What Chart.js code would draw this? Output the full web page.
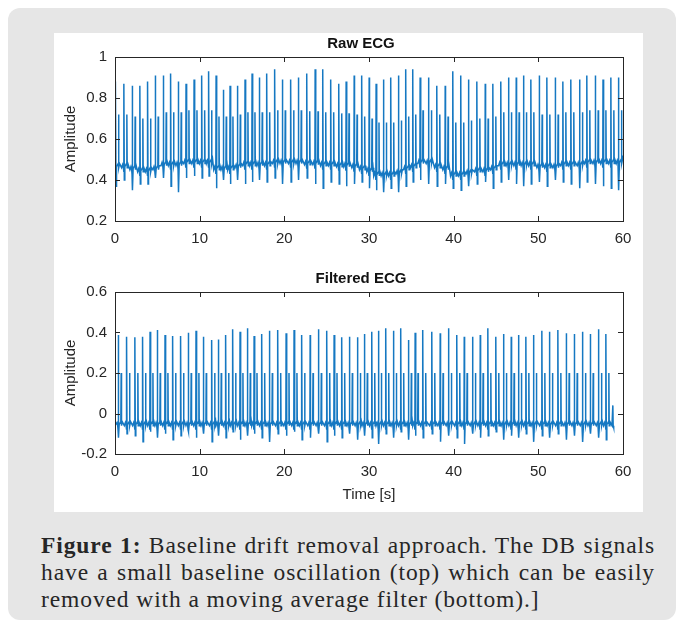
<!DOCTYPE html>
<html>
<head>
<meta charset="utf-8">
<script src="https://cdn.jsdelivr.net/npm/chart.js@4.4.1/dist/chart.umd.min.js"></script>
<style>
  body { margin: 0; background: #fff; width: 684px; height: 627px; overflow: hidden; position: relative; }
  #panel { position: absolute; left: 8px; top: 8px; width: 668px; height: 612px; background: #e6e6e6; border-radius: 12px; }
  #fig { position: absolute; left: 54px; top: 33px; width: 589px; height: 479px; background: #fff; }
  #c1 { position: absolute; left: 0; top: 0; }
  #c2 { position: absolute; left: 0; top: 229px; }
  .cap { position: absolute; left: 41px; width: 614px; font-family: "Liberation Serif", "Times New Roman", serif;
         font-size: 23.5px; letter-spacing: 0.9px; color: #262626; text-align: justify; text-align-last: justify;
         line-height: 26px; white-space: nowrap; }
</style>
</head>
<body>
<div id="panel"></div>
<div id="fig">
  <canvas id="c1" width="589" height="225"></canvas>
  <canvas id="c2" width="589" height="250"></canvas>
</div>
<div class="cap" style="top:532px"><b>Figure 1:</b> Baseline drift removal approach. The DB signals</div>
<div class="cap" style="top:559px">have a small baseline oscillation (top) which can be easily</div>
<div class="cap" style="top:586px; text-align-last:left">removed with a moving average filter (bottom).]</div>

<script>
// ---- data (seconds / amplitude) ----
var rawBeatTimes = [0.08,1.06,2.04,2.95,3.86,4.76,5.71,6.58,7.48,8.39,9.34,10.25,11.07,11.94,12.80,13.59,14.46,15.36,16.19,17.05,
  17.93,18.87,19.77,20.76,21.66,22.66,23.64,24.55,25.49,26.44,27.30,28.25,29.15,30.02,30.84,31.71,32.58,33.48,34.35,35.18,
  36.04,37.03,38.02,39.00,39.91,40.85,41.75,42.75,43.73,44.64,45.58,46.48,47.39,48.25,49.13,50.11,51.02,52.00,52.91,53.85,
  54.87,55.74,56.73,57.64,58.58,59.48];
var rawPeaks = [0.88,0.87,0.86,0.86,0.88,0.91,0.91,0.92,0.88,0.87,0.89,0.91,0.93,0.91,0.84,0.86,0.86,0.89,0.92,0.90,
  0.92,0.94,0.89,0.89,0.90,0.92,0.94,0.94,0.89,0.87,0.88,0.91,0.91,0.90,0.87,0.89,0.90,0.91,0.94,0.94,
  0.90,0.90,0.86,0.86,0.93,0.91,0.89,0.88,0.87,0.87,0.88,0.90,0.90,0.91,0.89,0.91,0.90,0.90,0.88,0.89,
  0.89,0.91,0.91,0.89,0.90,0.90];
var rawTroughs = [0.37,0.40,0.35,0.38,0.38,0.41,0.41,0.37,0.34,0.41,0.42,0.41,0.42,0.36,0.40,0.38,0.40,0.38,0.39,0.40,
  0.39,0.41,0.38,0.39,0.40,0.41,0.38,0.36,0.39,0.38,0.37,0.38,0.39,0.36,0.35,0.34,0.36,0.34,0.37,0.39,
  0.40,0.38,0.37,0.38,0.36,0.35,0.37,0.38,0.39,0.36,0.39,0.40,0.38,0.37,0.38,0.39,0.37,0.40,0.39,0.38,
  0.36,0.39,0.38,0.37,0.36,0.35];
var rawBaseline = [0.46,0.46,0.45,0.44,0.44,0.45,0.47,0.47,0.47,0.48,0.48,0.48,0.48,0.45,0.45,0.45,0.46,0.47,0.47,0.47,
  0.47,0.48,0.48,0.48,0.48,0.475,0.475,0.47,0.47,0.465,0.465,0.46,0.45,0.44,0.42,0.42,0.42,0.43,0.45,0.46,
  0.48,0.48,0.46,0.45,0.42,0.42,0.43,0.44,0.44,0.45,0.47,0.47,0.47,0.47,0.47,0.46,0.46,0.46,0.47,0.47,
  0.47,0.48,0.48,0.48,0.48,0.48];
var rawStart = 0.47, rawEnd = 0.52;

var filtBeatTimes = [0.39,1.38,2.36,3.27,4.14,5.00,5.91,6.82,7.76,8.66,9.57,10.44,11.43,12.21,13.08,13.91,14.77,15.64,16.43,17.34,
  18.24,19.23,20.21,21.15,22.06,23.05,24.03,25.02,25.88,26.79,27.69,28.64,29.46,30.34,31.12,31.99,32.89,33.76,34.66,35.45,
  36.36,37.43,38.41,39.39,40.38,41.25,42.23,43.14,44.05,44.99,45.89,46.80,47.66,48.54,49.43,50.43,51.33,52.32,53.30,54.25,
  55.23,56.14,57.12,57.99];
var filtPeaks = [0.388,0.379,0.376,0.379,0.404,0.412,0.388,0.383,0.383,0.399,0.409,0.379,0.363,0.366,0.388,0.416,0.404,0.421,0.383,0.393,
  0.409,0.412,0.396,0.412,0.388,0.388,0.416,0.409,0.388,0.376,0.379,0.376,0.393,0.404,0.409,0.421,0.409,0.421,0.363,0.399,
  0.412,0.404,0.396,0.421,0.388,0.379,0.379,0.388,0.421,0.379,0.393,0.379,0.388,0.379,0.388,0.409,0.404,0.412,0.396,0.393,
  0.404,0.393,0.416,0.393];
var filtTroughs = [-0.12,-0.10,-0.11,-0.14,-0.09,-0.12,-0.10,-0.13,-0.11,-0.09,-0.12,-0.10,-0.14,-0.11,-0.12,-0.09,-0.13,-0.11,-0.10,-0.12,
  -0.14,-0.10,-0.11,-0.09,-0.13,-0.12,-0.10,-0.14,-0.11,-0.12,-0.10,-0.13,-0.11,-0.12,-0.15,-0.10,-0.12,-0.09,-0.13,-0.11,
  -0.12,-0.10,-0.14,-0.11,-0.12,-0.15,-0.10,-0.12,-0.11,-0.09,-0.13,-0.11,-0.12,-0.10,-0.14,-0.11,-0.12,-0.10,-0.13,-0.11,
  -0.14,-0.10,-0.12,-0.13];
var filtBaseline = -0.06;
var filtTailT = [58.70, 58.80, 58.84, 58.90];
var filtTailV = [-0.06, 0.04, -0.06, -0.07];

// one beat as drawn: offsets (s) from the R peak, level above baseline ('R' / 'S' = per-beat values)
var beatOffsets = [-0.28, -0.16, -0.07, -0.03, 0, 0.04, 0.10, 0.30, 0.34, 0.38, 0.46];
var beatLevels  = [0.00, 0.015, 0.00, -0.02, 'R', 'S', 0.005, 0.02, 0.26, 0.00, 0.02];

var xTicks = [0, 10, 20, 30, 40, 50, 60];

function buildSignal(times, peaks, troughs, base, startV) {
  var pts = [{x: 0, y: startV}];
  times.forEach(function (t, i) {
    var b = Array.isArray(base) ? base[i] : base;
    beatOffsets.forEach(function (o, k) {
      var lv = beatLevels[k];
      var y = lv === 'R' ? peaks[i] : lv === 'S' ? troughs[i] : b + lv;
      var x = t + o;
      if (x > 0 && x < 60) pts.push({x: x, y: y});
    });
  });
  return pts;
}

var rawData = buildSignal(rawBeatTimes, rawPeaks, rawTroughs, rawBaseline, rawStart);
rawData.push({x: 60, y: rawEnd});
var filtData = buildSignal(filtBeatTimes, filtPeaks, filtTroughs, filtBaseline, filtBaseline);
filtTailT.forEach(function (t, i) { filtData.push({x: t, y: filtTailV[i]}); });

var ink = '#262626';
var boxPlugin = {
  id: 'box',
  afterDraw: function (chart) {
    var a = chart.chartArea, ctx = chart.ctx;
    ctx.save();
    ctx.strokeStyle = ink;
    ctx.lineWidth = 1;
    ctx.strokeRect(Math.round(a.left) + 0.5, Math.round(a.top) + 0.5, Math.round(a.right - a.left), Math.round(a.bottom - a.top));
    ctx.beginPath();
    chart.scales.x.ticks.forEach(function (tk) {
      var px = Math.round(chart.scales.x.getPixelForValue(tk.value)) + 0.5;
      ctx.moveTo(px, a.bottom); ctx.lineTo(px, a.bottom - 5);
      ctx.moveTo(px, a.top); ctx.lineTo(px, a.top + 5);
    });
    chart.scales.y.ticks.forEach(function (tk) {
      var py = Math.round(chart.scales.y.getPixelForValue(tk.value)) + 0.5;
      ctx.moveTo(a.left, py); ctx.lineTo(a.left + 5, py);
      ctx.moveTo(a.right, py); ctx.lineTo(a.right - 5, py);
    });
    ctx.stroke();
    var title = chart.options.plugins.boxTitle;
    ctx.fillStyle = '#111';
    ctx.font = 'bold 15px "Liberation Sans", Arial, sans-serif';
    ctx.textAlign = 'center';
    ctx.textBaseline = 'middle';
    ctx.fillText(title.text, (a.left + a.right) / 2 - 8, a.top - 13);
    ctx.restore();
  }
};

function makeChart(id, data, yMin, yMax, title, padTop, xHeight, xTitle) {
  return new Chart(document.getElementById(id), {
    type: 'line',
    data: { datasets: [{ data: data, borderColor: '#1578c2', borderWidth: 1.5, pointRadius: 0, tension: 0, fill: false }] },
    options: {
      responsive: false,
      animation: false,
      parsing: false,
      layout: { padding: { top: padTop, right: 20, left: 0, bottom: 0 } },
      plugins: { legend: { display: false }, tooltip: { enabled: false }, boxTitle: { text: title } },
      scales: {
        x: {
          type: 'linear', min: 0, max: 60,
          afterBuildTicks: function (s) { s.ticks = xTicks.map(function (v) { return {value: v}; }); },
          grid: { display: false, drawTicks: false },
          border: { display: false },
          ticks: { color: ink, padding: 9, font: { family: '"Liberation Sans", Arial, sans-serif', size: 15 }, maxRotation: 0 },
          title: { display: !!xTitle, text: xTitle, color: ink, padding: { top: 0, bottom: 8 },
                   font: { family: '"Liberation Sans", Arial, sans-serif', size: 15 } },
          afterFit: function (s) { s.height = xHeight; }
        },
        y: {
          min: yMin, max: yMax,
          grid: { display: false, drawTicks: false },
          border: { display: false },
          ticks: { color: ink, padding: 8, stepSize: 0.2, font: { family: '"Liberation Sans", Arial, sans-serif', size: 15 },
                   callback: function (v) { return String(parseFloat(v.toFixed(1))); } },
          title: { display: true, text: 'Amplitude', color: ink, padding: { top: 8, bottom: 0 },
                   font: { family: '"Liberation Sans", Arial, sans-serif', size: 15 } },
          afterFit: function (s) { s.width = 61; }
        }
      }
    },
    plugins: [boxPlugin]
  });
}

makeChart('c1', rawData, 0.2, 1, 'Raw ECG', 24, 37, '');
makeChart('c2', filtData, -0.2, 0.6, 'Filtered ECG', 30, 58, 'Time [s]');
</script>
</body>
</html>
